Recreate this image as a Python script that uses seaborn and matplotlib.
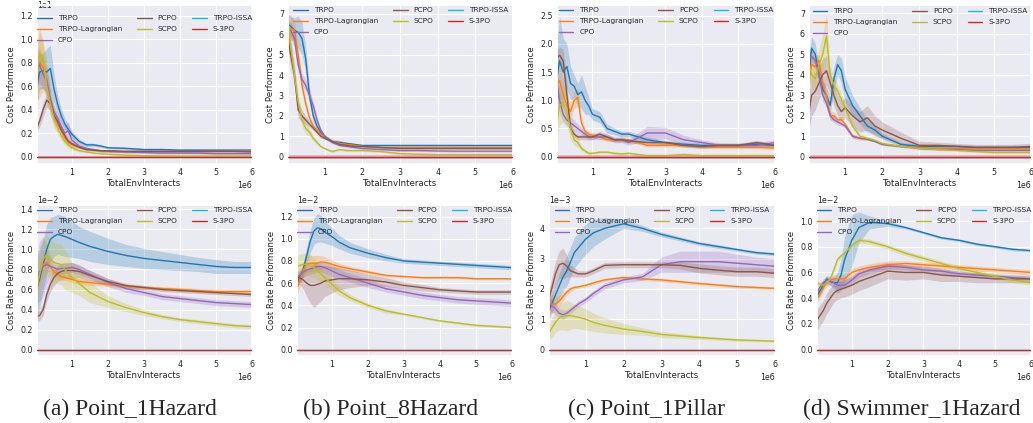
import matplotlib
matplotlib.use('Agg')
import matplotlib.pyplot as plt
from matplotlib.lines import Line2D
import numpy as np
import pandas as pd
import seaborn as sns

ALGOS = ['TRPO', 'TRPO-Lagrangian', 'CPO', 'PCPO', 'SCPO', 'TRPO-ISSA', 'S-3PO']
COLORS = ['#1f77b4', '#ff7f0e', '#9467bd', '#8c564b', '#bcbd22', '#17becf', '#d62728']
CAPTIONS = ['(a) Point_1Hazard', '(b) Point_8Hazard', '(c) Point_1Pillar', '(d) Swimmer_1Hazard']

# x in millions of env interactions
X_TOP = [0.03, 0.1, 0.2, 0.3, 0.4, 0.5, 0.6, 0.7, 0.8, 0.9, 1.0, 1.2, 1.4, 1.6, 1.8, 2.0,
         2.5, 3.0, 3.5, 4.0, 4.5, 5.0, 5.5, 6.0]
X_BOT = [0.03, 0.1, 0.2, 0.3, 0.4, 0.5, 0.6, 0.7, 0.8, 1.0, 1.2, 1.5, 2.0, 2.5, 3.0, 3.5,
         4.0, 4.5, 5.0, 5.5, 6.0]
ZERO_TOP = [0.0] * len(X_TOP)
ZERO_BOT = [0.0] * len(X_BOT)

# ---- cost performance (top row) ----
a_cost_trpo = [6.0, 7.2, 7.3, 7.2, 7.5, 5.8, 4.5, 3.5, 2.8, 2.3, 1.9, 1.3, 1.0, 1.0, 0.9, 0.75, 0.7, 0.6, 0.6, 0.55, 0.55, 0.55, 0.55, 0.55]
a_cost_trpo_sd = [1.5, 1.5, 1.5, 2.0, 2.0, 1.2, 0.8, 0.6, 0.5, 0.4, 0.3, 0.2, 0.15, 0.15, 0.1, 0.1, 0.1, 0.1, 0.1, 0.1, 0.1, 0.1, 0.1, 0.1]
a_cost_lag = [7.2, 8.0, 7.6, 6.5, 4.5, 3.5, 2.8, 2.2, 1.6, 1.2, 1.0, 0.8, 0.65, 0.55, 0.5, 0.45, 0.4, 0.4, 0.4, 0.4, 0.42, 0.45, 0.45, 0.45]
a_cost_lag_sd = [2.5, 3.0, 2.0, 1.5, 1.0, 0.8, 0.6, 0.5, 0.4, 0.3, 0.2, 0.15, 0.1, 0.1, 0.1, 0.1, 0.1, 0.1, 0.1, 0.1, 0.1, 0.1, 0.1, 0.1]
a_cost_cpo = [7.5, 7.8, 7.0, 6.5, 5.0, 3.8, 3.3, 2.6, 2.0, 2.2, 1.4, 0.9, 0.7, 0.6, 0.5, 0.45, 0.4, 0.35, 0.3, 0.3, 0.3, 0.25, 0.25, 0.25]
a_cost_cpo_sd = [1.5, 1.5, 1.2, 1.0, 0.8, 0.6, 0.5, 0.5, 0.6, 0.8, 0.4, 0.2, 0.15, 0.1, 0.1, 0.1, 0.1, 0.1, 0.1, 0.1, 0.1, 0.1, 0.1, 0.1]
a_cost_pcpo = [2.5, 3.0, 4.0, 4.8, 4.5, 3.5, 3.0, 2.3, 1.8, 1.3, 1.1, 0.8, 0.6, 0.55, 0.5, 0.5, 0.45, 0.45, 0.45, 0.45, 0.45, 0.45, 0.45, 0.4]
a_cost_pcpo_sd = [0.3, 0.5, 0.6, 0.6, 0.6, 0.5, 0.4, 0.3, 0.3, 0.2, 0.2, 0.1, 0.1, 0.1, 0.1, 0.1, 0.1, 0.1, 0.1, 0.1, 0.1, 0.1, 0.1, 0.1]
a_cost_scpo = [7.0, 8.8, 8.5, 6.0, 4.5, 3.3, 2.5, 1.8, 1.3, 1.0, 0.75, 0.5, 0.4, 0.3, 0.25, 0.2, 0.12, 0.08, 0.06, 0.05, 0.05, 0.05, 0.05, 0.05]
a_cost_scpo_sd = [1.5, 1.8, 1.5, 1.2, 1.0, 0.8, 0.6, 0.4, 0.3, 0.3, 0.2, 0.1, 0.1, 0.05, 0.05, 0.05, 0.05, 0.05, 0.05, 0.05, 0.05, 0.05, 0.05, 0.05]
a_cost_s3po_sd = [0.05] * len(X_TOP)

b_cost_trpo = [6.5, 6.4, 6.2, 6.1, 5.8, 4.8, 3.0, 2.0, 1.5, 1.2, 1.0, 0.75, 0.7, 0.65, 0.6, 0.55, 0.55, 0.55, 0.55, 0.55, 0.55, 0.55, 0.55, 0.55]
b_cost_trpo_sd = [0.5, 0.5, 0.6, 0.8, 0.8, 0.6, 0.4, 0.3, 0.2, 0.15, 0.1, 0.1, 0.1, 0.05, 0.05, 0.05, 0.05, 0.05, 0.05, 0.05, 0.05, 0.05, 0.05, 0.05]
b_cost_lag = [5.5, 6.3, 6.2, 5.0, 3.5, 2.6, 1.9, 1.5, 1.3, 1.1, 0.95, 0.75, 0.65, 0.6, 0.55, 0.5, 0.45, 0.45, 0.45, 0.45, 0.45, 0.45, 0.45, 0.45]
b_cost_lag_sd = [0.6, 0.6, 0.5, 0.4, 0.3, 0.2, 0.15, 0.1, 0.1, 0.1, 0.05, 0.05, 0.05, 0.05, 0.05, 0.05, 0.05, 0.05, 0.05, 0.05, 0.05, 0.05, 0.05, 0.05]
b_cost_cpo = [6.2, 6.2, 5.8, 4.5, 3.8, 3.5, 3.0, 2.5, 1.8, 1.3, 1.0, 0.7, 0.55, 0.5, 0.45, 0.4, 0.35, 0.3, 0.3, 0.28, 0.27, 0.27, 0.27, 0.27]
b_cost_cpo_sd = [0.4, 0.4, 0.4, 0.4, 0.3, 0.3, 0.3, 0.2, 0.15, 0.1, 0.1, 0.05, 0.05, 0.05, 0.05, 0.05, 0.05, 0.05, 0.05, 0.05, 0.05, 0.05, 0.05, 0.05]
b_cost_pcpo = [5.8, 5.0, 4.0, 2.3, 2.0, 1.8, 1.6, 1.4, 1.2, 1.0, 0.9, 0.75, 0.6, 0.55, 0.5, 0.5, 0.45, 0.4, 0.4, 0.4, 0.4, 0.4, 0.4, 0.4]
b_cost_pcpo_sd = [0.5, 0.6, 0.5, 0.4, 0.3, 0.2, 0.15, 0.1, 0.1, 0.1, 0.05, 0.05, 0.05, 0.05, 0.05, 0.05, 0.05, 0.05, 0.05, 0.05, 0.05, 0.05, 0.05, 0.05]
b_cost_scpo = [6.8, 5.5, 4.0, 2.7, 1.8, 1.4, 1.2, 0.9, 0.7, 0.5, 0.4, 0.25, 0.35, 0.3, 0.3, 0.3, 0.25, 0.15, 0.12, 0.1, 0.1, 0.1, 0.1, 0.1]
b_cost_scpo_sd = [0.4, 0.5, 0.5, 0.4, 0.3, 0.3, 0.2, 0.15, 0.1, 0.05, 0.05, 0.05, 0.05, 0.05, 0.05, 0.05, 0.05, 0.05, 0.05, 0.05, 0.05, 0.05, 0.05, 0.05]
b_cost_s3po_sd = [0.1] * len(X_TOP)

c_cost_trpo = [1.4, 1.7, 1.5, 1.6, 1.3, 1.25, 1.1, 1.15, 1.0, 0.9, 0.75, 0.7, 0.5, 0.45, 0.4, 0.4, 0.3, 0.25, 0.22, 0.2, 0.2, 0.2, 0.22, 0.2]
c_cost_trpo_sd = [0.6, 0.8, 0.6, 0.4, 0.3, 0.2, 0.2, 0.3, 0.25, 0.15, 0.1, 0.1, 0.08, 0.06, 0.05, 0.05, 0.05, 0.04, 0.04, 0.04, 0.04, 0.04, 0.05, 0.04]
c_cost_lag = [1.3, 1.35, 1.1, 0.9, 0.8, 1.0, 1.05, 0.6, 0.45, 0.4, 0.38, 0.35, 0.3, 0.3, 0.3, 0.3, 0.2, 0.2, 0.2, 0.17, 0.17, 0.17, 0.17, 0.15]
c_cost_lag_sd = [0.3, 0.3, 0.25, 0.2, 0.15, 0.15, 0.15, 0.1, 0.05, 0.05, 0.04, 0.04, 0.03, 0.03, 0.03, 0.03, 0.03, 0.03, 0.03, 0.03, 0.03, 0.03, 0.03, 0.03]
c_cost_cpo = [1.3, 1.0, 0.75, 0.65, 0.6, 0.55, 0.5, 0.45, 0.4, 0.35, 0.35, 0.35, 0.35, 0.3, 0.3, 0.25, 0.42, 0.42, 0.3, 0.25, 0.2, 0.2, 0.2, 0.25]
c_cost_cpo_sd = [0.2, 0.2, 0.15, 0.1, 0.1, 0.1, 0.08, 0.06, 0.05, 0.05, 0.05, 0.05, 0.05, 0.05, 0.05, 0.05, 0.12, 0.1, 0.08, 0.05, 0.04, 0.04, 0.05, 0.05]
c_cost_pcpo = [1.75, 1.8, 1.7, 1.1, 0.5, 0.4, 0.35, 0.35, 0.35, 0.35, 0.35, 0.4, 0.35, 0.3, 0.3, 0.28, 0.25, 0.25, 0.2, 0.18, 0.2, 0.2, 0.25, 0.2]
c_cost_pcpo_sd = [0.15, 0.15, 0.2, 0.2, 0.1, 0.05, 0.05, 0.05, 0.05, 0.05, 0.05, 0.05, 0.05, 0.04, 0.04, 0.04, 0.03, 0.03, 0.03, 0.03, 0.03, 0.03, 0.04, 0.03]
c_cost_scpo = [0.6, 0.9, 0.95, 0.8, 0.5, 0.3, 0.25, 0.15, 0.1, 0.06, 0.06, 0.08, 0.08, 0.06, 0.05, 0.06, 0.02, 0.02, 0.04, 0.02, 0.02, 0.02, 0.02, 0.02]
c_cost_scpo_sd = [0.3, 0.35, 0.3, 0.25, 0.2, 0.1, 0.08, 0.05, 0.04, 0.03, 0.02, 0.02, 0.02, 0.02, 0.02, 0.02, 0.01, 0.01, 0.02, 0.01, 0.01, 0.01, 0.01, 0.01]
c_cost_s3po_sd = [0.035] * len(X_TOP)

d_cost_trpo = [4.0, 5.3, 5.0, 4.0, 3.3, 3.0, 2.5, 3.8, 4.5, 4.2, 3.3, 2.5, 2.0, 1.5, 1.3, 1.0, 0.6, 0.5, 0.5, 0.5, 0.45, 0.45, 0.45, 0.45]
d_cost_trpo_sd = [0.8, 0.6, 0.5, 0.5, 0.4, 0.4, 0.4, 0.6, 0.5, 0.6, 0.6, 0.5, 0.4, 0.3, 0.2, 0.15, 0.1, 0.1, 0.1, 0.1, 0.1, 0.1, 0.1, 0.1]
d_cost_lag = [3.8, 4.5, 4.4, 4.7, 3.5, 3.0, 2.0, 2.0, 1.8, 1.8, 1.6, 1.0, 0.9, 0.85, 0.75, 0.6, 0.5, 0.45, 0.4, 0.4, 0.4, 0.4, 0.4, 0.35]
d_cost_lag_sd = [0.5, 0.5, 0.4, 0.4, 0.3, 0.3, 0.2, 0.2, 0.15, 0.15, 0.1, 0.1, 0.1, 0.05, 0.05, 0.05, 0.05, 0.05, 0.05, 0.05, 0.05, 0.05, 0.05, 0.05]
d_cost_cpo = [4.8, 4.9, 4.7, 4.0, 3.0, 2.6, 2.0, 1.8, 1.7, 1.6, 1.5, 1.0, 0.9, 0.85, 0.75, 0.6, 0.5, 0.4, 0.35, 0.35, 0.3, 0.3, 0.3, 0.3]
d_cost_cpo_sd = [0.4, 0.4, 0.4, 0.3, 0.3, 0.2, 0.2, 0.15, 0.15, 0.1, 0.1, 0.1, 0.05, 0.05, 0.05, 0.05, 0.05, 0.05, 0.05, 0.05, 0.05, 0.05, 0.05, 0.05]
d_cost_pcpo = [2.2, 3.0, 3.2, 3.6, 4.0, 4.2, 3.6, 3.0, 2.5, 2.2, 2.4, 2.0, 1.7, 1.9, 1.5, 1.3, 0.9, 0.55, 0.55, 0.5, 0.45, 0.45, 0.45, 0.5]
d_cost_pcpo_sd = [0.9, 1.0, 0.9, 0.8, 0.8, 0.7, 0.6, 0.5, 0.5, 0.5, 0.5, 0.5, 0.5, 0.6, 0.5, 0.4, 0.3, 0.2, 0.15, 0.15, 0.15, 0.15, 0.15, 0.15]
d_cost_scpo = [4.5, 4.0, 3.8, 4.5, 5.0, 5.9, 4.0, 3.5, 3.2, 2.8, 2.4, 1.5, 1.0, 0.9, 0.8, 0.65, 0.5, 0.4, 0.35, 0.3, 0.25, 0.2, 0.2, 0.2]
d_cost_scpo_sd = [0.6, 0.6, 0.6, 0.8, 1.0, 1.1, 0.5, 0.4, 0.3, 0.3, 0.2, 0.15, 0.1, 0.1, 0.05, 0.05, 0.05, 0.05, 0.05, 0.05, 0.05, 0.05, 0.05, 0.05]
d_cost_s3po_sd = [0.1] * len(X_TOP)

# ---- cost rate performance (bottom row), in units of the axis offset ----
RATE_SCALES = [1e-2, 1e-2, 1e-3, 1e-2]

a_rate_trpo = [0.62, 0.7, 0.85, 1.0, 1.1, 1.13, 1.15, 1.14, 1.13, 1.1, 1.07, 1.03, 0.98, 0.94, 0.91, 0.89, 0.87, 0.85, 0.83, 0.82, 0.82]
a_rate_trpo_sd = [0.3, 0.3, 0.25, 0.25, 0.22, 0.2, 0.2, 0.2, 0.2, 0.18, 0.16, 0.15, 0.13, 0.11, 0.1, 0.09, 0.08, 0.07, 0.07, 0.06, 0.06]
a_rate_lag = [0.6, 0.75, 0.85, 0.87, 0.83, 0.78, 0.75, 0.73, 0.72, 0.7, 0.68, 0.67, 0.65, 0.63, 0.62, 0.61, 0.6, 0.59, 0.58, 0.58, 0.58]
a_rate_lag_sd = [0.1, 0.1, 0.1, 0.08, 0.06, 0.05, 0.04, 0.04, 0.03, 0.03, 0.03, 0.03, 0.02, 0.02, 0.02, 0.02, 0.02, 0.02, 0.02, 0.02, 0.02]
a_rate_cpo = [0.7, 0.78, 0.83, 0.85, 0.83, 0.82, 0.8, 0.81, 0.81, 0.82, 0.8, 0.75, 0.67, 0.61, 0.57, 0.53, 0.51, 0.49, 0.47, 0.46, 0.45]
a_rate_cpo_sd = [0.25, 0.3, 0.3, 0.2, 0.1, 0.06, 0.05, 0.05, 0.05, 0.05, 0.05, 0.04, 0.04, 0.04, 0.03, 0.03, 0.03, 0.03, 0.03, 0.03, 0.03]
a_rate_pcpo = [0.33, 0.34, 0.4, 0.55, 0.65, 0.72, 0.76, 0.78, 0.79, 0.79, 0.78, 0.74, 0.68, 0.64, 0.62, 0.6, 0.59, 0.58, 0.57, 0.56, 0.55]
a_rate_pcpo_sd = [0.05, 0.05, 0.06, 0.07, 0.07, 0.08, 0.08, 0.08, 0.08, 0.08, 0.06, 0.05, 0.03, 0.02, 0.02, 0.02, 0.02, 0.02, 0.02, 0.02, 0.02]
a_rate_scpo = [0.65, 0.75, 0.9, 0.95, 0.9, 0.87, 0.86, 0.85, 0.8, 0.72, 0.66, 0.57, 0.48, 0.42, 0.37, 0.33, 0.3, 0.28, 0.26, 0.24, 0.23]
a_rate_scpo_sd = [0.2, 0.2, 0.2, 0.2, 0.2, 0.2, 0.2, 0.2, 0.2, 0.15, 0.12, 0.1, 0.06, 0.04, 0.03, 0.02, 0.02, 0.02, 0.02, 0.02, 0.02]

b_rate_trpo = [0.6, 0.65, 0.72, 0.85, 0.98, 1.07, 1.1, 1.09, 1.06, 1.02, 0.97, 0.92, 0.87, 0.83, 0.8, 0.79, 0.78, 0.77, 0.76, 0.75, 0.74]
b_rate_trpo_sd = [0.05, 0.05, 0.06, 0.08, 0.1, 0.12, 0.13, 0.12, 0.1, 0.08, 0.06, 0.05, 0.04, 0.03, 0.02, 0.02, 0.02, 0.02, 0.02, 0.02, 0.02]
b_rate_lag = [0.55, 0.62, 0.72, 0.77, 0.78, 0.78, 0.78, 0.79, 0.79, 0.77, 0.75, 0.73, 0.7, 0.67, 0.66, 0.65, 0.65, 0.65, 0.64, 0.64, 0.64]
b_rate_lag_sd = [0.06, 0.06, 0.06, 0.07, 0.07, 0.07, 0.07, 0.06, 0.05, 0.04, 0.03, 0.02, 0.02, 0.01, 0.01, 0.01, 0.01, 0.01, 0.01, 0.01, 0.01]
b_rate_cpo = [0.66, 0.67, 0.7, 0.72, 0.73, 0.74, 0.75, 0.75, 0.74, 0.71, 0.68, 0.65, 0.6, 0.55, 0.52, 0.49, 0.47, 0.45, 0.44, 0.43, 0.42]
b_rate_cpo_sd = [0.05, 0.05, 0.05, 0.05, 0.05, 0.05, 0.05, 0.05, 0.05, 0.05, 0.04, 0.04, 0.04, 0.03, 0.03, 0.03, 0.03, 0.03, 0.03, 0.03, 0.03]
b_rate_pcpo = [0.65, 0.65, 0.63, 0.6, 0.58, 0.58, 0.59, 0.6, 0.62, 0.63, 0.64, 0.64, 0.63, 0.61, 0.58, 0.56, 0.54, 0.53, 0.52, 0.52, 0.52]
b_rate_pcpo_sd = [0.05, 0.06, 0.08, 0.12, 0.16, 0.2, 0.18, 0.16, 0.14, 0.12, 0.1, 0.08, 0.05, 0.04, 0.03, 0.03, 0.02, 0.02, 0.02, 0.02, 0.02]
b_rate_scpo = [0.75, 0.76, 0.77, 0.77, 0.76, 0.74, 0.71, 0.68, 0.65, 0.59, 0.53, 0.47, 0.4, 0.35, 0.32, 0.29, 0.26, 0.24, 0.22, 0.21, 0.2]
b_rate_scpo_sd = [0.1, 0.1, 0.1, 0.1, 0.1, 0.09, 0.08, 0.07, 0.06, 0.05, 0.04, 0.03, 0.02, 0.02, 0.01, 0.01, 0.01, 0.01, 0.01, 0.01, 0.01]

c_rate_trpo = [1.3, 1.5, 1.8, 2.1, 2.4, 2.6, 2.9, 3.2, 3.35, 3.65, 3.85, 4.0, 4.15, 4.0, 3.8, 3.65, 3.5, 3.4, 3.3, 3.2, 3.15]
c_rate_trpo_sd = [0.3, 0.3, 0.35, 0.4, 0.45, 0.5, 0.5, 0.5, 0.5, 0.5, 0.45, 0.35, 0.15, 0.1, 0.08, 0.07, 0.06, 0.06, 0.05, 0.05, 0.05]
c_rate_lag = [1.5, 1.5, 1.5, 1.6, 1.75, 1.9, 2.0, 2.05, 2.07, 2.12, 2.2, 2.3, 2.38, 2.33, 2.3, 2.24, 2.18, 2.13, 2.08, 2.05, 2.02]
c_rate_lag_sd = [0.3, 0.3, 0.25, 0.2, 0.15, 0.1, 0.08, 0.06, 0.05, 0.05, 0.05, 0.05, 0.05, 0.05, 0.05, 0.05, 0.05, 0.05, 0.05, 0.05, 0.05]
c_rate_cpo = [1.5, 1.45, 1.35, 1.2, 1.15, 1.2, 1.3, 1.4, 1.5, 1.65, 1.85, 2.1, 2.3, 2.4, 2.8, 2.9, 2.9, 2.9, 2.85, 2.8, 2.75]
c_rate_cpo_sd = [0.2, 0.2, 0.2, 0.15, 0.15, 0.12, 0.1, 0.1, 0.1, 0.1, 0.1, 0.1, 0.1, 0.12, 0.25, 0.35, 0.35, 0.35, 0.3, 0.25, 0.25]
c_rate_pcpo = [1.7, 2.0, 2.5, 2.8, 2.85, 2.75, 2.6, 2.55, 2.5, 2.5, 2.6, 2.78, 2.8, 2.8, 2.8, 2.78, 2.68, 2.62, 2.57, 2.57, 2.52]
c_rate_pcpo_sd = [0.3, 0.35, 0.4, 0.45, 0.5, 0.35, 0.2, 0.15, 0.1, 0.1, 0.1, 0.1, 0.1, 0.1, 0.1, 0.12, 0.15, 0.15, 0.15, 0.15, 0.15]
c_rate_scpo = [0.55, 0.7, 0.9, 1.05, 1.1, 1.12, 1.12, 1.1, 1.07, 1.0, 0.9, 0.8, 0.68, 0.6, 0.5, 0.45, 0.4, 0.36, 0.32, 0.3, 0.28]
c_rate_scpo_sd = [0.25, 0.3, 0.35, 0.4, 0.45, 0.5, 0.45, 0.4, 0.38, 0.35, 0.3, 0.25, 0.18, 0.12, 0.1, 0.08, 0.06, 0.05, 0.05, 0.04, 0.04]

d_rate_trpo = [0.42, 0.45, 0.5, 0.55, 0.53, 0.52, 0.52, 0.58, 0.7, 0.85, 0.95, 0.99, 0.98, 0.95, 0.91, 0.87, 0.85, 0.82, 0.8, 0.78, 0.77]
d_rate_trpo_sd = [0.03, 0.03, 0.03, 0.03, 0.03, 0.05, 0.08, 0.12, 0.18, 0.2, 0.12, 0.05, 0.02, 0.01, 0.01, 0.01, 0.01, 0.01, 0.01, 0.01, 0.01]
d_rate_lag = [0.4, 0.42, 0.48, 0.52, 0.54, 0.55, 0.55, 0.55, 0.55, 0.6, 0.62, 0.64, 0.66, 0.67, 0.66, 0.65, 0.64, 0.63, 0.62, 0.61, 0.6]
d_rate_lag_sd = [0.03, 0.03, 0.03, 0.03, 0.03, 0.03, 0.03, 0.03, 0.03, 0.03, 0.03, 0.03, 0.03, 0.02, 0.02, 0.02, 0.02, 0.02, 0.02, 0.02, 0.02]
d_rate_cpo = [0.44, 0.48, 0.52, 0.54, 0.53, 0.52, 0.5, 0.5, 0.5, 0.54, 0.59, 0.62, 0.65, 0.64, 0.62, 0.61, 0.59, 0.58, 0.57, 0.56, 0.55]
d_rate_cpo_sd = [0.03, 0.03, 0.03, 0.03, 0.03, 0.03, 0.03, 0.03, 0.03, 0.03, 0.03, 0.03, 0.03, 0.02, 0.02, 0.02, 0.02, 0.02, 0.02, 0.02, 0.02]
d_rate_pcpo = [0.23, 0.26, 0.3, 0.36, 0.4, 0.44, 0.46, 0.47, 0.48, 0.5, 0.53, 0.56, 0.61, 0.6, 0.6, 0.58, 0.57, 0.56, 0.55, 0.55, 0.55]
d_rate_pcpo_sd = [0.08, 0.08, 0.08, 0.08, 0.08, 0.07, 0.07, 0.07, 0.07, 0.07, 0.07, 0.07, 0.06, 0.06, 0.05, 0.05, 0.04, 0.04, 0.03, 0.03, 0.03]
d_rate_scpo = [0.52, 0.51, 0.5, 0.52, 0.55, 0.62, 0.7, 0.73, 0.75, 0.81, 0.85, 0.84, 0.8, 0.75, 0.71, 0.67, 0.63, 0.6, 0.57, 0.54, 0.52]
d_rate_scpo_sd = [0.02, 0.02, 0.02, 0.02, 0.02, 0.02, 0.02, 0.02, 0.02, 0.02, 0.02, 0.02, 0.02, 0.02, 0.02, 0.02, 0.02, 0.02, 0.02, 0.02, 0.02]

COST = [
    [a_cost_trpo, a_cost_lag, a_cost_cpo, a_cost_pcpo, a_cost_scpo, ZERO_TOP, ZERO_TOP],
    [b_cost_trpo, b_cost_lag, b_cost_cpo, b_cost_pcpo, b_cost_scpo, ZERO_TOP, ZERO_TOP],
    [c_cost_trpo, c_cost_lag, c_cost_cpo, c_cost_pcpo, c_cost_scpo, ZERO_TOP, ZERO_TOP],
    [d_cost_trpo, d_cost_lag, d_cost_cpo, d_cost_pcpo, d_cost_scpo, ZERO_TOP, ZERO_TOP],
]
COST_SD = [
    [a_cost_trpo_sd, a_cost_lag_sd, a_cost_cpo_sd, a_cost_pcpo_sd, a_cost_scpo_sd, ZERO_TOP, a_cost_s3po_sd],
    [b_cost_trpo_sd, b_cost_lag_sd, b_cost_cpo_sd, b_cost_pcpo_sd, b_cost_scpo_sd, ZERO_TOP, b_cost_s3po_sd],
    [c_cost_trpo_sd, c_cost_lag_sd, c_cost_cpo_sd, c_cost_pcpo_sd, c_cost_scpo_sd, ZERO_TOP, c_cost_s3po_sd],
    [d_cost_trpo_sd, d_cost_lag_sd, d_cost_cpo_sd, d_cost_pcpo_sd, d_cost_scpo_sd, ZERO_TOP, d_cost_s3po_sd],
]
RATE = [
    [a_rate_trpo, a_rate_lag, a_rate_cpo, a_rate_pcpo, a_rate_scpo, ZERO_BOT, ZERO_BOT],
    [b_rate_trpo, b_rate_lag, b_rate_cpo, b_rate_pcpo, b_rate_scpo, ZERO_BOT, ZERO_BOT],
    [c_rate_trpo, c_rate_lag, c_rate_cpo, c_rate_pcpo, c_rate_scpo, ZERO_BOT, ZERO_BOT],
    [d_rate_trpo, d_rate_lag, d_rate_cpo, d_rate_pcpo, d_rate_scpo, ZERO_BOT, ZERO_BOT],
]
RATE_SD = [
    [a_rate_trpo_sd, a_rate_lag_sd, a_rate_cpo_sd, a_rate_pcpo_sd, a_rate_scpo_sd, ZERO_BOT, ZERO_BOT],
    [b_rate_trpo_sd, b_rate_lag_sd, b_rate_cpo_sd, b_rate_pcpo_sd, b_rate_scpo_sd, ZERO_BOT, ZERO_BOT],
    [c_rate_trpo_sd, c_rate_lag_sd, c_rate_cpo_sd, c_rate_pcpo_sd, c_rate_scpo_sd, ZERO_BOT, ZERO_BOT],
    [d_rate_trpo_sd, d_rate_lag_sd, d_rate_cpo_sd, d_rate_pcpo_sd, d_rate_scpo_sd, ZERO_BOT, ZERO_BOT],
]

# y-limits (in plotted units)
COST_YLIM = [(-0.63, 12.9), (-0.36, 7.44), (-0.13, 2.69), (-0.36, 7.41)]
RATE_YLIM = [(-0.063, 1.443), (-0.057, 1.305), (-0.21, 4.77), (-0.05, 1.125)]

# axes boxes in pixels: (left, right, top, bottom)
W, H = 1033, 423
TOP_BOXES = [(37, 252, 5, 164), (288, 513, 5, 164), (557, 775, 5, 164), (809, 1031, 5, 164)]
BOT_BOXES = [(37, 252, 205, 356), (297, 512, 205, 356), (549, 775, 205, 356), (817, 1031, 205, 356)]
CAPTION_X = [130, 391, 646, 912]
# extra downward shift of the legend, pixels
TOP_LEGEND_DROP = [8, 0, 0, 1]

TICK_FS = 5.7
LABEL_FS = 6.2
LEGEND_FS = 5.3


def make_frame(xs, ys, sds, scale):
    rows = []
    for algo, y, sd in zip(ALGOS, ys, sds):
        for x, v, s in zip(xs, y, sd):
            rows.append((algo, x * 1e6, v * scale, s * scale))
    return pd.DataFrame(rows, columns=['algo', 'step', 'value', 'sd'])


def draw_panel(fig, box, df, ylim, ylabel, offset_va, legend_drop):
    l, r, t, b = box
    ax = fig.add_axes([l / W, 1 - b / H, (r - l) / W, (b - t) / H])
    for k, (algo, color) in enumerate(zip(ALGOS, COLORS)):
        sub = df[df.algo == algo]
        ax.fill_between(sub.step, sub.value - sub.sd, sub.value + sub.sd,
                        color=color, alpha=0.25, lw=0, zorder=1)
        sns.lineplot(x=sub.step.values, y=sub.value.values, color=color,
                     estimator=None, lw=1.0, zorder=2 + k * 0.1, ax=ax)

    ax.set_xlim(df.step.min(), 6e6)
    ax.set_ylim(*ylim)
    ax.ticklabel_format(style='sci', scilimits=(0, 0), axis='both')
    ax.tick_params(labelsize=TICK_FS, pad=3, length=0)
    ax.xaxis.get_offset_text().set_fontsize(TICK_FS)
    yoff = ax.yaxis.get_offset_text()
    yoff.set_fontsize(TICK_FS)
    yoff.set_verticalalignment(offset_va)
    ax.set_xlabel('TotalEnvInteracts', fontsize=LABEL_FS, labelpad=1.5)
    ax.set_ylabel(ylabel, fontsize=LABEL_FS, labelpad=3)
    ax.grid(color='white', lw=0.8)

    handles = [Line2D([], [], color=c, lw=1.0) for c in COLORS]
    ax.legend(handles, ALGOS, loc='upper center', ncol=3, fontsize=LEGEND_FS,
              frameon=False, borderpad=0.1, borderaxespad=0.2, labelspacing=0.65,
              bbox_to_anchor=(0.5, 1 - legend_drop / (b - t)))
    return ax


def main():
    sns.set_theme(style='darkgrid')
    plt.rcParams['font.family'] = 'DejaVu Sans'

    fig = plt.figure(figsize=(W / 100, H / 100), dpi=100)

    for i in range(4):
        df_cost = make_frame(X_TOP, COST[i], COST_SD[i], 1.0)
        draw_panel(fig, TOP_BOXES[i], df_cost, COST_YLIM[i], 'Cost Performance',
                   'top', TOP_LEGEND_DROP[i])

        sc = RATE_SCALES[i]
        df_rate = make_frame(X_BOT, RATE[i], RATE_SD[i], sc)
        ylim = (RATE_YLIM[i][0] * sc, RATE_YLIM[i][1] * sc)
        draw_panel(fig, BOT_BOXES[i], df_rate, ylim, 'Cost Rate Performance',
                   'center', 0)

        fig.text(CAPTION_X[i] / W, 1 - 409 / H, CAPTIONS[i], ha='center', va='center',
                 family='Liberation Serif', fontsize=17)

    fig.savefig('out.png', dpi=100)


if __name__ == '__main__':
    main()
